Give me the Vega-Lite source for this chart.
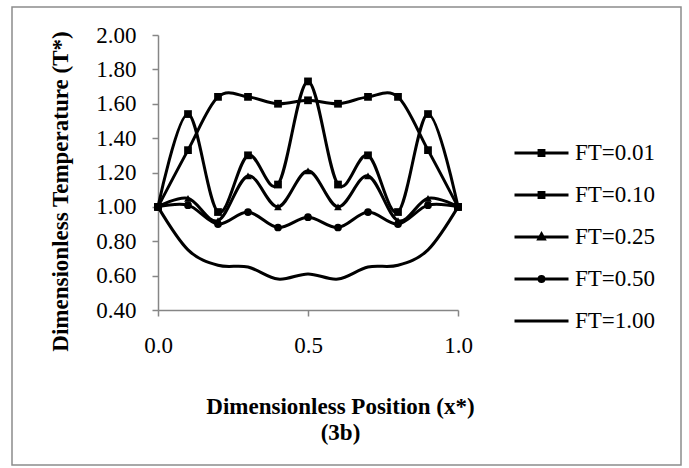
{
  "$schema": "https://vega.github.io/schema/vega-lite/v6.json",
  "width": 669,
  "height": 458,
  "autosize": "none",
  "padding": {"left": 12, "top": 7, "right": 8, "bottom": 3},
  "background": "white",
  "config": {
    "view": {"stroke": "#8c8c8c", "strokeWidth": 1.5},
    "font": "Liberation Serif",
    "axis": {
      "grid": false,
      "domainColor": "#868686",
      "domainWidth": 1.5,
      "tickColor": "#868686",
      "tickWidth": 1.5,
      "tickSize": 6,
      "labelFont": "Liberation Serif",
      "labelFontSize": 23,
      "labelColor": "black",
      "labelFlush": false,
      "titleFont": "Liberation Serif",
      "titleFontSize": 23,
      "titleFontWeight": "bold",
      "titleColor": "black"
    }
  },
  "data": {
    "values": [
      {"x": 0.0, "ft": "FT=0.01", "t": 1.00},
      {"x": 0.1, "ft": "FT=0.01", "t": 1.33},
      {"x": 0.2, "ft": "FT=0.01", "t": 1.64},
      {"x": 0.3, "ft": "FT=0.01", "t": 1.64},
      {"x": 0.4, "ft": "FT=0.01", "t": 1.60},
      {"x": 0.5, "ft": "FT=0.01", "t": 1.62},
      {"x": 0.6, "ft": "FT=0.01", "t": 1.60},
      {"x": 0.7, "ft": "FT=0.01", "t": 1.64},
      {"x": 0.8, "ft": "FT=0.01", "t": 1.64},
      {"x": 0.9, "ft": "FT=0.01", "t": 1.33},
      {"x": 1.0, "ft": "FT=0.01", "t": 1.00},
      {"x": 0.0, "ft": "FT=0.10", "t": 1.00},
      {"x": 0.1, "ft": "FT=0.10", "t": 1.54},
      {"x": 0.2, "ft": "FT=0.10", "t": 0.97},
      {"x": 0.3, "ft": "FT=0.10", "t": 1.30},
      {"x": 0.4, "ft": "FT=0.10", "t": 1.13},
      {"x": 0.5, "ft": "FT=0.10", "t": 1.73},
      {"x": 0.6, "ft": "FT=0.10", "t": 1.13},
      {"x": 0.7, "ft": "FT=0.10", "t": 1.30},
      {"x": 0.8, "ft": "FT=0.10", "t": 0.97},
      {"x": 0.9, "ft": "FT=0.10", "t": 1.54},
      {"x": 1.0, "ft": "FT=0.10", "t": 1.00},
      {"x": 0.0, "ft": "FT=0.25", "t": 1.00},
      {"x": 0.1, "ft": "FT=0.25", "t": 1.05},
      {"x": 0.2, "ft": "FT=0.25", "t": 0.92},
      {"x": 0.3, "ft": "FT=0.25", "t": 1.18},
      {"x": 0.4, "ft": "FT=0.25", "t": 1.00},
      {"x": 0.5, "ft": "FT=0.25", "t": 1.21},
      {"x": 0.6, "ft": "FT=0.25", "t": 1.00},
      {"x": 0.7, "ft": "FT=0.25", "t": 1.18},
      {"x": 0.8, "ft": "FT=0.25", "t": 0.92},
      {"x": 0.9, "ft": "FT=0.25", "t": 1.05},
      {"x": 1.0, "ft": "FT=0.25", "t": 1.00},
      {"x": 0.0, "ft": "FT=0.50", "t": 1.00},
      {"x": 0.1, "ft": "FT=0.50", "t": 1.01},
      {"x": 0.2, "ft": "FT=0.50", "t": 0.90},
      {"x": 0.3, "ft": "FT=0.50", "t": 0.97},
      {"x": 0.4, "ft": "FT=0.50", "t": 0.88},
      {"x": 0.5, "ft": "FT=0.50", "t": 0.94},
      {"x": 0.6, "ft": "FT=0.50", "t": 0.88},
      {"x": 0.7, "ft": "FT=0.50", "t": 0.97},
      {"x": 0.8, "ft": "FT=0.50", "t": 0.90},
      {"x": 0.9, "ft": "FT=0.50", "t": 1.01},
      {"x": 1.0, "ft": "FT=0.50", "t": 1.00},
      {"x": 0.0, "ft": "FT=1.00", "t": 1.00},
      {"x": 0.1, "ft": "FT=1.00", "t": 0.75},
      {"x": 0.2, "ft": "FT=1.00", "t": 0.66},
      {"x": 0.3, "ft": "FT=1.00", "t": 0.65},
      {"x": 0.4, "ft": "FT=1.00", "t": 0.58},
      {"x": 0.5, "ft": "FT=1.00", "t": 0.61},
      {"x": 0.6, "ft": "FT=1.00", "t": 0.58},
      {"x": 0.7, "ft": "FT=1.00", "t": 0.65},
      {"x": 0.8, "ft": "FT=1.00", "t": 0.66},
      {"x": 0.9, "ft": "FT=1.00", "t": 0.75},
      {"x": 1.0, "ft": "FT=1.00", "t": 1.00}
    ]
  },
  "encoding": {
    "x": {
      "field": "x",
      "type": "quantitative",
      "scale": {"domain": [0, 1], "range": [146, 446], "nice": false, "zero": false},
      "axis": {
        "values": [0, 0.5, 1],
        "format": ".1f",
        "offset": -155,
        "labelPadding": 18,
        "title": ["Dimensionless Position (x*)", "(3b)"],
        "titleX": 328,
        "titleY": 103,
        "titleAlign": "center",
        "titleBaseline": "alphabetic",
        "titleLineHeight": 26
      }
    },
    "y": {
      "field": "t",
      "type": "quantitative",
      "scale": {"domain": [0.4, 2.0], "range": [303, 28], "nice": false, "zero": false},
      "axis": {
        "values": [0.4, 0.6, 0.8, 1.0, 1.2, 1.4, 1.6, 1.8, 2.0],
        "format": ".2f",
        "offset": -146,
        "labelPadding": 16,
        "title": "Dimensionless Temperature (T*)",
        "titleX": -98,
        "titleY": 184,
        "titleAlign": "center",
        "titleBaseline": "middle"
      }
    }
  },
  "layer": [
    {
      "mark": {"type": "line", "interpolate": "cardinal", "strokeWidth": 3},
      "encoding": {
        "color": {
          "field": "ft",
          "type": "nominal",
          "scale": {
            "domain": ["FT=0.01", "FT=0.10", "FT=0.25", "FT=0.50", "FT=1.00"],
            "range": ["black", "black", "black", "black", "black"]
          },
          "legend": {
            "title": null,
            "orient": "none",
            "legendX": 501,
            "legendY": 136,
            "padding": 0,
            "clipHeight": 20,
            "rowPadding": 19,
            "symbolOffset": 0,
            "labelOffset": 5,
            "labelFont": "Liberation Serif",
            "labelFontSize": 23,
            "labelColor": "black",
            "labelLimit": 200,
            "symbolSize": 2916,
            "symbolStrokeWidth": 3,
            "encode": {
              "symbols": {
                "update": {
                  "fill": {"value": "black"},
                  "stroke": {"value": "black"},
                  "strokeWidth": {"value": 3},
                  "opacity": {"value": 1},
                  "shape": {
                    "signal": "datum.value === 'FT=0.25' ? 'M-1,0H1M0,-0.11L0.1,0.07H-0.1Z' : datum.value === 'FT=0.50' ? 'M-1,0H1M-0.09,0A0.09,0.09 0 1,1 0.09,0A0.09,0.09 0 1,1 -0.09,0Z' : datum.value === 'FT=1.00' ? 'M-1,0H1' : 'M-1,0H1M-0.09,-0.09H0.09V0.09H-0.09Z'"
                  }
                }
              }
            }
          }
        }
      }
    },
    {
      "transform": [{"filter": "datum.ft !== 'FT=1.00'"}],
      "mark": {"type": "point", "filled": true, "opacity": 1, "color": "black"},
      "encoding": {
        "shape": {
          "field": "ft",
          "type": "nominal",
          "scale": {
            "domain": ["FT=0.01", "FT=0.10", "FT=0.25", "FT=0.50"],
            "range": ["square", "square", "triangle-up", "circle"]
          },
          "legend": null
        },
        "size": {
          "field": "ft",
          "type": "nominal",
          "scale": {
            "domain": ["FT=0.01", "FT=0.10", "FT=0.25", "FT=0.50"],
            "range": [60, 60, 45, 50]
          },
          "legend": null
        }
      }
    }
  ]
}
